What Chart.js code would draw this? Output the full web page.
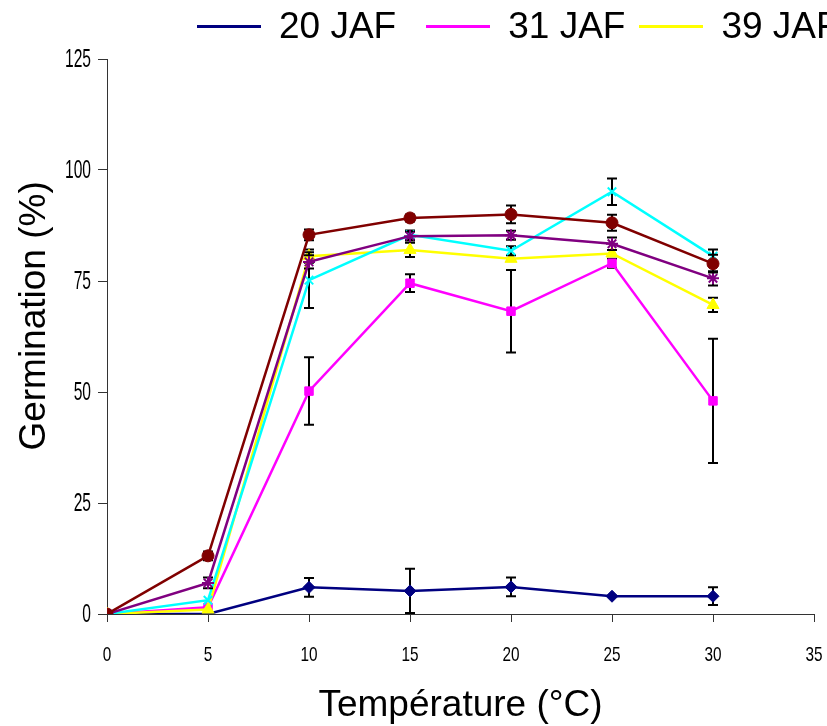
<!DOCTYPE html>
<html lang="fr">
<head>
<meta charset="utf-8">
<title>Germination</title>
<script src="https://cdn.jsdelivr.net/npm/chart.js@4.4.1/dist/chart.umd.min.js"></script>
<style>
  html, body { margin: 0; padding: 0; background: #fff; overflow: hidden; }
  #wrap { position: relative; width: 827px; height: 726px; overflow: hidden; }
  #legend {
    position: absolute; top: 0; left: 197px;
    display: flex; white-space: nowrap;
    font-family: 'Liberation Sans', Arial, sans-serif; font-size: 37px; color: #000;
  }
  .item { display: flex; align-items: center; height: 52px; margin-right: 22px; }
  .item:nth-child(1) { margin-right: 30px; }
  .item:nth-child(2) { margin-right: 14px; }
  .swatch { width: 64px; height: 3px; margin-right: 18px; }
</style>
</head>
<body>
<div id="wrap">
  <canvas id="germChart" width="827" height="726"></canvas>
  <div id="legend"></div>
</div>

<script>
// ===== Données =====
const temperatures = [0, 5, 10, 15, 20, 25, 30];
const xTicks = [0, 5, 10, 15, 20, 25, 30, 35];
const yTicks = [0, 25, 50, 75, 100, 125];

const labels = ['20 JAF', '31 JAF', '39 JAF', '45 JAF', '52 JAF', '60 JAF'];

const g20 = [0, 0, 6, 5.2, 6.1, 4, 4];
const e20 = [0, 0, 2.1, 5, 2.1, 0, 2];

const g31 = [0, 1.5, 50.2, 74.5, 68.2, 79, 48];
const e31 = [0, 0, 7.6, 2, 9.3, 1, 14];

const g39 = [0, 1, 80.6, 82, 80, 81.2, 69.6];
const e39 = [0, 0, 1.5, 1.6, 0, 0, 1.6];

const g45 = [0, 3.1, 75.2, 85.4, 81.8, 95.1, 80.6];
const e45 = [0, 0, 6.3, 1, 1, 3, 1.5];

const g52 = [0, 7, 79.3, 85.1, 85.3, 83.4, 75.6];
const e52 = [0, 1.2, 1.5, 1, 1, 1.4, 1.6];

const g60 = [0, 13.1, 85.4, 89.2, 90, 88.1, 78.9];
const e60 = [0, 1, 1.2, 0.8, 2, 1.8, 2];

const colors = ['#000080', '#FF00FF', '#FFFF00', '#00FFFF', '#800080', '#800000'];
const markers = ['rectRot', 'rect', 'triangle', 'crossRot', 'star', 'circle'];
const series = [g20, g31, g39, g45, g52, g60];
const errors = [e20, e31, e39, e45, e52, e60];

// ===== Barres d'erreur (dessinées juste avant chaque série) =====
const errorBars = {
  id: 'errorBars',
  beforeDatasetDraw(chart, args) {
    const ds = chart.data.datasets[args.index];
    if (!ds.errors) return;
    const ctx = chart.ctx;
    const yScale = chart.scales.y;
    ctx.save();
    ctx.strokeStyle = '#000';
    ctx.lineWidth = 2;
    args.meta.data.forEach((pt, i) => {
      const e = ds.errors[i];
      if (!e) return;
      const v = ds.data[i].y;
      const top = yScale.getPixelForValue(v + e);
      const bot = yScale.getPixelForValue(Math.max(0, v - e));
      ctx.beginPath();
      ctx.moveTo(pt.x, top); ctx.lineTo(pt.x, bot);
      ctx.moveTo(pt.x - 5, top); ctx.lineTo(pt.x + 5, top);
      ctx.moveTo(pt.x - 5, bot); ctx.lineTo(pt.x + 5, bot);
      ctx.stroke();
    });
    ctx.restore();
  }
};

// ===== Graduations en police étroite (texte compressé horizontalement) =====
const narrowTicks = {
  id: 'narrowTicks',
  afterDraw(chart) {
    const c = chart.ctx;
    const xs = chart.scales.x, ys = chart.scales.y;
    c.save();
    c.fillStyle = '#000';

    c.font = "26px 'Liberation Sans', Arial, sans-serif";
    c.textAlign = 'right';
    c.textBaseline = 'middle';
    ys.ticks.forEach(t => {
      c.save();
      c.translate(ys.right - 16, ys.getPixelForValue(t.value) + 1);
      c.scale(0.6, 1);
      c.fillText(String(t.value), 0, 0);
      c.restore();
    });

    c.font = "21px 'Liberation Sans', Arial, sans-serif";
    c.textAlign = 'center';
    xs.ticks.forEach(t => {
      c.save();
      c.translate(xs.getPixelForValue(t.value), xs.top + 41);
      c.scale(0.73, 1);
      c.fillText(String(t.value), 0, 0);
      c.restore();
    });
    c.restore();
  }
};

const datasets = series.map((vals, k) => ({
  label: labels[k],
  data: vals.map((v, i) => ({ x: temperatures[i], y: v })),
  errors: errors[k],
  borderColor: colors[k],
  backgroundColor: colors[k],
  borderWidth: 2.5,
  pointStyle: markers[k],
  pointRadius: markers[k] === 'triangle' ? 7 : 6,
  pointBorderWidth: (markers[k] === 'crossRot' || markers[k] === 'star') ? 2 : 1,
  pointBackgroundColor: colors[k],
  pointBorderColor: colors[k],
  tension: 0,
  order: series.length - k   // la dernière série passe au-dessus
}));

const titleFont = { family: "'Liberation Sans', Arial, sans-serif", size: 37 };

const ctx = document.getElementById('germChart').getContext('2d');
new Chart(ctx, {
  type: 'line',
  data: { datasets },
  plugins: [errorBars, narrowTicks],
  options: {
    responsive: false,
    animation: false,
    layout: { padding: { top: 59, right: 13, left: 0, bottom: 0 } },
    plugins: { legend: { display: false }, tooltip: { enabled: false } },
    scales: {
      x: {
        type: 'linear',
        min: 0, max: 35,
        afterBuildTicks: s => { s.ticks = xTicks.map(v => ({ value: v })); },
        afterFit: s => { s.height = 112; },
        grid: { drawOnChartArea: false, drawTicks: true, tickLength: 8, color: '#333', lineWidth: 1 },
        border: { color: '#333', width: 1 },
        ticks: { display: false },
        title: { display: true, text: 'Température (°C)', color: '#000', font: titleFont, padding: { top: 0, bottom: -2 } }
      },
      y: {
        min: 0, max: 125,
        afterBuildTicks: s => { s.ticks = yTicks.map(v => ({ value: v })); },
        afterFit: s => { s.width = 107; },
        grid: { drawOnChartArea: false, drawTicks: true, tickLength: 9, color: '#333', lineWidth: 1 },
        border: { color: '#333', width: 1 },
        ticks: { display: false },
        // espaces en tête : remonte le titre au-dessus du milieu de l'axe
        title: { display: true, text: '\u00a0\u00a0\u00a0\u00a0Germination (%)', color: '#000', font: titleFont, padding: { top: 13, bottom: 0 } }
      }
    }
  }
});

// ===== Légende HTML =====
const legend = document.getElementById('legend');
datasets.forEach(ds => {
  const item = document.createElement('div');
  item.className = 'item';
  item.innerHTML = `<span class="swatch" style="background:${ds.borderColor}"></span><span>${ds.label}</span>`;
  legend.appendChild(item);
});
</script>
</body>
</html>
